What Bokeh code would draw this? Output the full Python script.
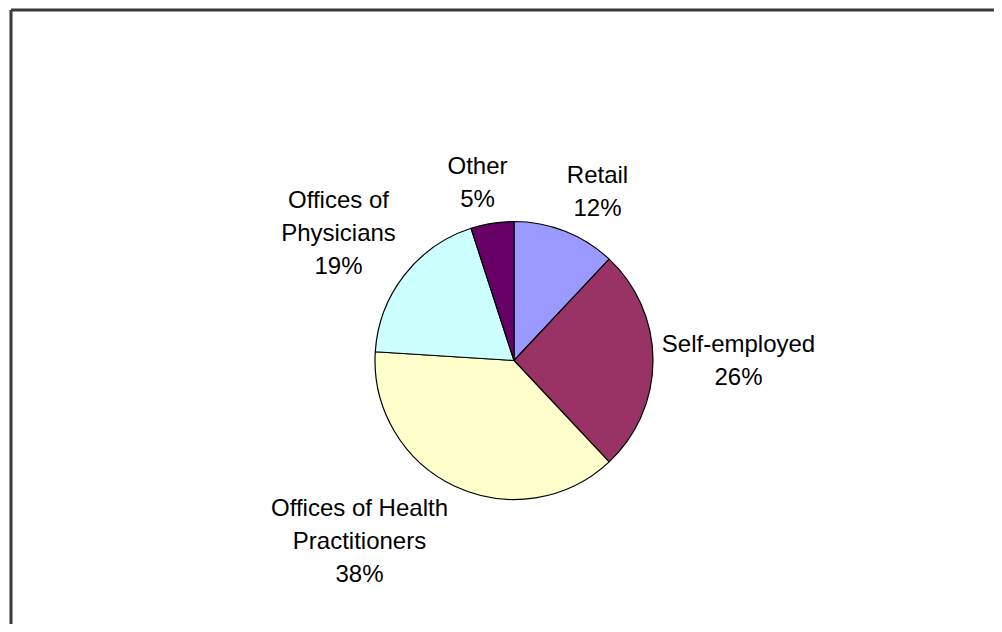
import math
from bokeh.plotting import figure
from bokeh.models import Range1d, ColumnDataSource
from bokeh.core.properties import value
from bokeh.embed import file_html
from bokeh.resources import INLINE

# ---- data ----
categories = ["Retail", "Self-employed", "Offices of Health\nPractitioners",
              "Offices of\nPhysicians", "Other"]
shares = [12, 26, 38, 19, 5]
colors = ["#9999FF", "#993366", "#FFFFCC", "#CCFFFF", "#660066"]

# ---- layout (pixel based, relative to the chart image) ----
W, H = 994, 624
label_pos = [(597, 190.5), (738, 359), (359, 540), (338, 232), (477, 181.5)]
pie_cx, pie_cy, pie_r = 513.5, 360, 139
line_gap = 33

def dx(sx):
    return sx

def dy(sy):
    return H - sy

p = figure(width=W, height=H, output_backend="svg", toolbar_location=None,
           x_range=Range1d(0, W), y_range=Range1d(0, H),
           min_border=0, min_border_left=0, min_border_right=0,
           min_border_top=0, min_border_bottom=0)
p.axis.visible = False
p.grid.visible = False
p.outline_line_color = None
p.background_fill_color = "white"
p.border_fill_color = "white"

# wedges: start at 12 o'clock, go clockwise
total = float(sum(shares))
starts, ends = [], []
acc = 0.0
for s in shares:
    a0 = math.pi / 2 - 2 * math.pi * acc / total
    acc += s
    a1 = math.pi / 2 - 2 * math.pi * acc / total
    starts.append(a1)
    ends.append(a0)

src = ColumnDataSource(dict(start=starts, end=ends, color=colors,
                            x=[dx(pie_cx)] * len(shares), y=[dy(pie_cy)] * len(shares)))
p.wedge(x="x", y="y", radius=pie_r, start_angle="start", end_angle="end",
        fill_color="color", line_color="black", line_width=1.2, source=src)

# labels
tx, ty, tt = [], [], []
for cat, s, (lx, ly) in zip(categories, shares, label_pos):
    lines = cat.split("\n") + [f"{s}%"]
    n = len(lines)
    for i, ln in enumerate(lines):
        sy = ly + (i - (n - 1) / 2) * line_gap
        tx.append(dx(lx))
        ty.append(dy(sy))
        tt.append(ln)
p.text(x=tx, y=ty, text=tt, text_align="center", text_baseline="middle",
       text_font=value("Liberation Sans"), text_font_size="24px", text_color="black")

# chart-area border (left and top edges visible)
p.segment(x0=[dx(10.5), dx(10.5)], y0=[0, dy(9.5)], x1=[dx(10.5), W], y1=[dy(9.5), dy(9.5)],
          line_color="#3a3a3a", line_width=3)

open("out.html", "w").write(file_html(p, INLINE))
